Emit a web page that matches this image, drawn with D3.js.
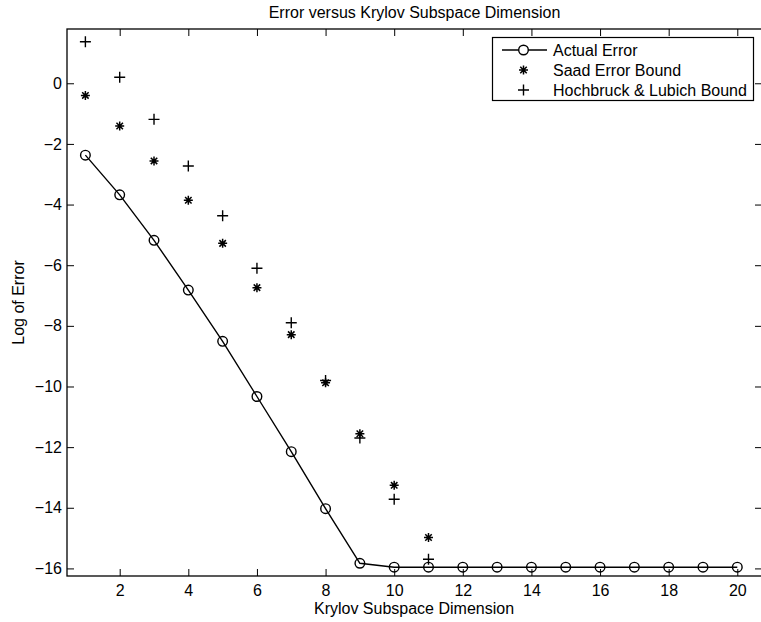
<!DOCTYPE html>
<html>
<head>
<meta charset="utf-8">
<script src="https://cdn.jsdelivr.net/npm/d3@7"></script>
<style>
  body { margin: 0; background: #fff; }
  svg { display: block; font-family: "Liberation Sans", Arial, Helvetica, sans-serif; }
</style>
</head>
<body>
<div id="chart"></div>
<script>
// Krylov subspace error plot
const dims = d3.range(1, 21);
const actualError = [-2.37, -3.68, -5.18, -6.82, -8.51, -10.33, -12.15, -14.03, -15.83,
    -15.96, -15.96, -15.96, -15.96, -15.96, -15.96, -15.96, -15.96, -15.96, -15.96, -15.96];
const saadDims = d3.range(1, 12);
const saadBound = [-0.40, -1.41, -2.56, -3.86, -5.28, -6.74, -8.29, -9.88, -11.56, -13.26, -14.98];
const hlDims = d3.range(1, 12);
const hlBound = [1.37, 0.20, -1.19, -2.73, -4.37, -6.10, -7.90, -9.80, -11.70, -13.72, -15.70];
const xTicks = [2, 4, 6, 8, 10, 12, 14, 16, 18, 20];
const yTicks = [0, -2, -4, -6, -8, -10, -12, -14, -16];
const legendLabels = ["Actual Error", "Saad Error Bound", "Hochbruck & Lubich Bound"];

const W = 761, H = 622;
const axL = 67, axR = 762, axT = 29, axB = 576;

const svg = d3.select("#chart").append("svg")
    .attr("width", W).attr("height", H);

const x = d3.scaleLinear().domain([0.464, 20.72]).range([axL, axR]);
const y = d3.scaleLinear().domain([-16.25, 1.79]).range([axB, axT]);

const fmt = d => (d < 0 ? "\u2212" + Math.abs(d) : "" + d);

// axes (MATLAB style: inward ticks, box)
const tickLen = 7;
svg.append("g").attr("transform", `translate(0,${axB})`)
    .call(d3.axisBottom(x).tickValues(xTicks).tickSizeInner(-tickLen).tickSizeOuter(0).tickPadding(9).tickFormat(fmt))
    .call(g => g.select(".domain").remove());
svg.append("g").attr("transform", `translate(0,${axT})`)
    .call(d3.axisTop(x).tickValues(xTicks).tickSizeInner(-tickLen).tickSizeOuter(0).tickFormat(""))
    .call(g => g.select(".domain").remove());
svg.append("g").attr("transform", `translate(${axL},0)`)
    .call(d3.axisLeft(y).tickValues(yTicks).tickSizeInner(-tickLen).tickSizeOuter(0).tickPadding(5).tickFormat(fmt))
    .call(g => g.select(".domain").remove());
svg.append("g").attr("transform", `translate(${axR},0)`)
    .call(d3.axisRight(y).tickValues(yTicks).tickSizeInner(-tickLen).tickSizeOuter(0).tickFormat(""))
    .call(g => g.select(".domain").remove());

svg.selectAll(".tick text").attr("font-size", 16).attr("fill", "#000")
    .attr("font-family", "'Liberation Sans', Arial, sans-serif");
svg.selectAll(".tick line").attr("stroke", "#000");

svg.append("rect")
    .attr("x", axL).attr("y", axT)
    .attr("width", axR - axL).attr("height", axB - axT)
    .attr("fill", "none").attr("stroke", "#000").attr("stroke-width", 1.3);

// actual error line + circles
const line = d3.line().x((d, i) => x(dims[i])).y(d => y(d));
svg.append("path").datum(actualError)
    .attr("d", line).attr("fill", "none").attr("stroke", "#000").attr("stroke-width", 1.4);
svg.selectAll(".circ").data(actualError).enter().append("circle")
    .attr("cx", (d, i) => x(dims[i])).attr("cy", d => y(d)).attr("r", 4.8)
    .attr("fill", "none").attr("stroke", "#000").attr("stroke-width", 1.4);

function asterisk(g, cx, cy) {
    const s = 4.5, d = s * 0.72;
    const p = `M${cx - s},${cy}H${cx + s}M${cx},${cy - s}V${cy + s}` +
        `M${cx - d},${cy - d}L${cx + d},${cy + d}M${cx - d},${cy + d}L${cx + d},${cy - d}`;
    g.append("path").attr("d", p).attr("stroke", "#000").attr("stroke-width", 1.5).attr("fill", "none");
}
function plus(g, cx, cy) {
    const s = 5.5;
    g.append("path").attr("d", `M${cx - s},${cy}H${cx + s}M${cx},${cy - s}V${cy + s}`)
        .attr("stroke", "#000").attr("stroke-width", 1.4).attr("fill", "none");
}

const gSaad = svg.append("g");
saadBound.forEach((v, i) => asterisk(gSaad, x(saadDims[i]), y(v)));
const gHL = svg.append("g");
hlBound.forEach((v, i) => plus(gHL, x(hlDims[i]), y(v)));

// legend
const lg = svg.append("g");
lg.append("rect").attr("x", 492.5).attr("y", 37.5).attr("width", 261).attr("height", 63)
    .attr("fill", "#fff").attr("stroke", "#000").attr("stroke-width", 1.2);
const rowY = [50, 70, 90];
lg.append("line").attr("x1", 502).attr("x2", 547).attr("y1", rowY[0]).attr("y2", rowY[0])
    .attr("stroke", "#000").attr("stroke-width", 1.4);
lg.append("circle").attr("cx", 523.5).attr("cy", rowY[0]).attr("r", 4.8)
    .attr("fill", "#fff").attr("stroke", "#000").attr("stroke-width", 1.4);
asterisk(lg, 523.5, rowY[1]);
plus(lg, 523.5, rowY[2]);
lg.selectAll(".lt").data(legendLabels).enter().append("text")
    .attr("x", 553).attr("y", (d, i) => rowY[i]).attr("dy", "0.35em")
    .attr("font-size", 16).text(d => d);

// titles
svg.append("text").attr("x", (axL + axR) / 2).attr("y", 18).attr("text-anchor", "middle")
    .attr("font-size", 16).text("Error versus Krylov Subspace Dimension");
svg.append("text").attr("x", 414).attr("y", 614).attr("text-anchor", "middle")
    .attr("font-size", 16).text("Krylov Subspace Dimension");
svg.append("text").attr("transform", `translate(24,${(axT + axB) / 2}) rotate(-90)`)
    .attr("text-anchor", "middle").attr("font-size", 16).text("Log of Error");
</script>
</body>
</html>
